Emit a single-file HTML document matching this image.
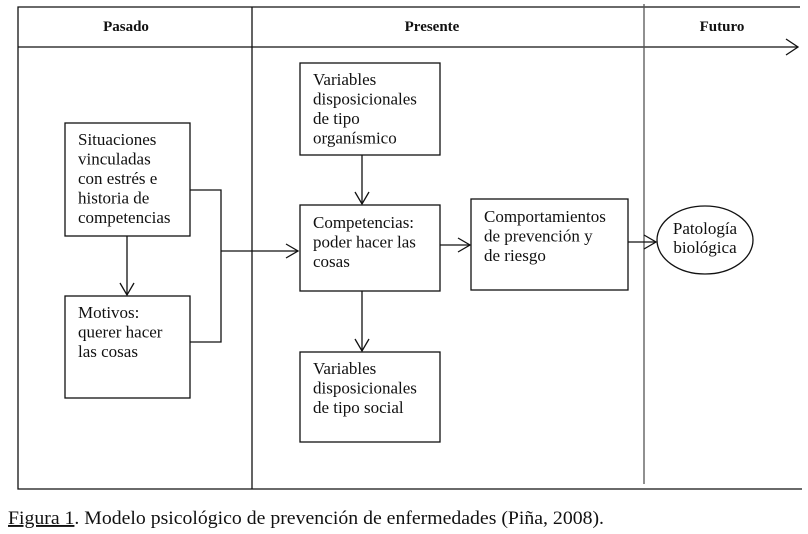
<!DOCTYPE html>
<html><head><meta charset="utf-8"><style>
body{margin:0;background:#fff;width:808px;height:534px;overflow:hidden}
svg{display:block}
text{font-family:"Liberation Serif",serif;font-size:17px;fill:#111}
.h{font-weight:bold;font-size:15px}
</style></head><body>
<svg width="808" height="534" viewBox="0 0 808 534">
<g stroke="#111" stroke-width="1.3" fill="none">
<path d="M800 7H18V489H802"/>
<line x1="18" y1="47" x2="252" y2="47"/>
<line x1="252" y1="47" x2="798" y2="47"/>
<path d="M786 39L798 47L786 55"/>
<line x1="252" y1="7" x2="252" y2="489"/>
<line x1="644" y1="4" x2="644" y2="484" stroke="#555"/>
<rect x="65" y="123" width="125" height="113"/>
<rect x="65" y="296" width="125" height="102"/>
<rect x="300" y="63" width="140" height="92"/>
<rect x="300" y="205" width="140" height="86"/>
<rect x="471" y="199" width="157" height="91"/>
<rect x="300" y="352" width="140" height="90"/>
<ellipse cx="705" cy="240" rx="48" ry="34"/>
<path d="M190 190H221V342H190"/>
<path d="M221 251H298"/><path d="M286 244L298 251L286 258"/>
<path d="M127 236V295"/><path d="M120 283L127 295L134 283"/>
<path d="M362 155V204"/><path d="M355 192L362 204L369 192"/>
<path d="M362 291V351"/><path d="M355 339L362 351L369 339"/>
<path d="M440 245H470"/><path d="M458 238L470 245L458 252"/>
<path d="M628 242H656"/><path d="M644 235L656 242L644 249"/>
</g>
<text class="h" x="126" y="31" text-anchor="middle">Pasado</text>
<text class="h" x="432" y="31" text-anchor="middle">Presente</text>
<text class="h" x="722" y="31" text-anchor="middle">Futuro</text>
<text x="78" y="145">Situaciones</text>
<text x="78" y="164.5">vinculadas</text>
<text x="78" y="184">con estrés e</text>
<text x="78" y="203.5">historia de</text>
<text x="78" y="223">competencias</text>
<text x="78" y="318">Motivos:</text>
<text x="78" y="337.5">querer hacer</text>
<text x="78" y="357">las cosas</text>
<text x="313" y="85">Variables</text>
<text x="313" y="104.5">disposicionales</text>
<text x="313" y="124">de tipo</text>
<text x="313" y="143.5">organísmico</text>
<text x="313" y="228">Competencias:</text>
<text x="313" y="247.5">poder hacer las</text>
<text x="313" y="267">cosas</text>
<text x="484" y="222">Comportamientos</text>
<text x="484" y="241.5">de prevención y</text>
<text x="484" y="261">de riesgo</text>
<text x="313" y="374">Variables</text>
<text x="313" y="393.5">disposicionales</text>
<text x="313" y="413">de tipo social</text>
<text x="705" y="234" text-anchor="middle">Patología</text>
<text x="705" y="253" text-anchor="middle">biológica</text>
<text x="8" y="524" style="font-size:19px" textLength="596" lengthAdjust="spacingAndGlyphs"><tspan text-decoration="underline">Figura 1</tspan>. Modelo psicológico de prevención de enfermedades (Piña, 2008).</text>
</svg>
</body></html>
